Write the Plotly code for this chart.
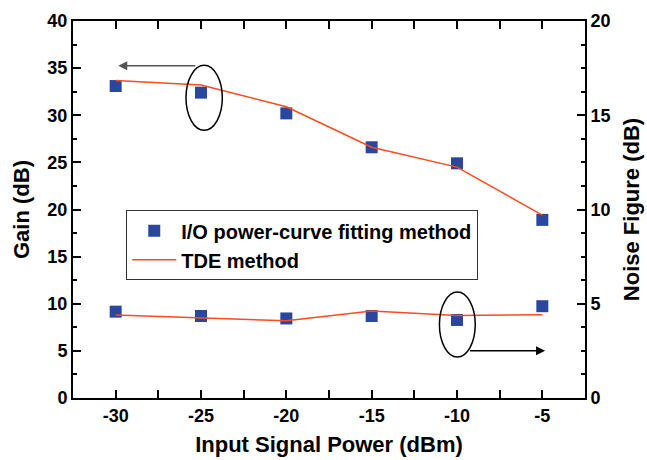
import plotly.graph_objects as go

power = [-30, -25, -20, -15, -10, -5]
power_labels = ["-30", "-25", "-20", "-15", "-10", "-5"]
gain_io = [33.1, 32.4, 30.2, 26.6, 24.9, 18.9]
gain_tde = [33.7, 33.2, 30.9, 26.6, 24.5, 19.4]
nf_io = [4.58, 4.35, 4.22, 4.35, 4.14, 4.87]
nf_tde = [4.40, 4.26, 4.10, 4.61, 4.38, 4.41]

name_io = "I/O power-curve fitting method"
name_tde = "TDE method"

sq_color = "#2A47A0"
ln_color = "#FF4A1E"
FONT = "Liberation Sans, Arial, sans-serif"

fig = go.Figure()
fig.add_trace(go.Scatter(x=power, y=gain_io, mode="markers", name=name_io,
                         marker=dict(symbol="square", size=12, color=sq_color)))
fig.add_trace(go.Scatter(x=power, y=gain_tde, mode="lines", name=name_tde,
                         line=dict(color=ln_color, width=1.5)))
fig.add_trace(go.Scatter(x=power, y=nf_io, mode="markers", yaxis="y2", showlegend=False,
                         marker=dict(symbol="square", size=12, color=sq_color)))
fig.add_trace(go.Scatter(x=power, y=nf_tde, mode="lines", yaxis="y2", showlegend=False,
                         line=dict(color=ln_color, width=1.5)))

axis_common = dict(showline=True, linecolor="black", linewidth=2, ticks="inside",
                   ticklen=8, tickwidth=1.5, tickcolor="black", showgrid=False,
                   zeroline=False, automargin=False,
                   tickfont=dict(size=18, family=FONT, color="black", weight="bold"))

fig.update_layout(
    width=647, height=460,
    margin=dict(l=73, r=62, t=21, b=62),
    paper_bgcolor="white", plot_bgcolor="white",
    font=dict(family=FONT, color="black"),
    xaxis=dict(range=[-32.5, -2.5], tickmode="array", tickvals=power, ticktext=power_labels,
               mirror="allticks",
               minor=dict(dtick=2.5, tick0=0, ticks="inside", ticklen=4, tickwidth=1.5, tickcolor="black"),
               title=dict(text="Input Signal Power (dBm)", font=dict(size=22, family=FONT, weight="bold"), standoff=12),
               **axis_common),
    yaxis=dict(range=[0, 40], dtick=5,
               minor=dict(dtick=2.5, ticks="inside", ticklen=4, tickwidth=1.5, tickcolor="black"),
               title=dict(text="Gain (dB)", font=dict(size=22, family=FONT, weight="bold"), standoff=12),
               **axis_common),
    yaxis2=dict(range=[0, 20], dtick=5, overlaying="y", side="right",
                minor=dict(dtick=1.25, ticks="inside", ticklen=4, tickwidth=1.5, tickcolor="black"),
                title=dict(text="Noise Figure (dB)", font=dict(size=22, family=FONT, weight="bold"), standoff=14),
                **axis_common),
    legend=dict(x=0.104, y=0.498, xanchor="left", yanchor="top", bgcolor="white",
                bordercolor="#333", borderwidth=1, tracegroupgap=0,
                font=dict(size=20, family=FONT, weight="bold", color="black"),
                itemwidth=44),
    showlegend=True,
)

# ellipses marking the curves
fig.add_shape(type="circle", xref="x", yref="y", x0=-25.88, x1=-23.75, y0=28.4, y1=35.3,
              line=dict(color="black", width=1.5))
fig.add_shape(type="circle", xref="x", yref="y", x0=-11.03, x1=-8.93, y0=4.34, y1=11.24,
              line=dict(color="black", width=1.5))
# arrows
fig.add_annotation(x=-29.85, y=35.26, ax=-25.25, ay=35.26, xref="x", yref="y", axref="x", ayref="y",
                   text="", showarrow=True, arrowhead=2, arrowsize=1.2, arrowwidth=1.5, arrowcolor="#555")
fig.add_annotation(x=-4.84, y=5.02, ax=-9.33, ay=5.02, xref="x", yref="y", axref="x", ayref="y",
                   text="", showarrow=True, arrowhead=2, arrowsize=1.2, arrowwidth=1.5, arrowcolor="black")

fig.write_html("out.html", config={"displayModeBar": False},
               post_script="document.body.style.margin='0';document.body.style.overflow='hidden';")
